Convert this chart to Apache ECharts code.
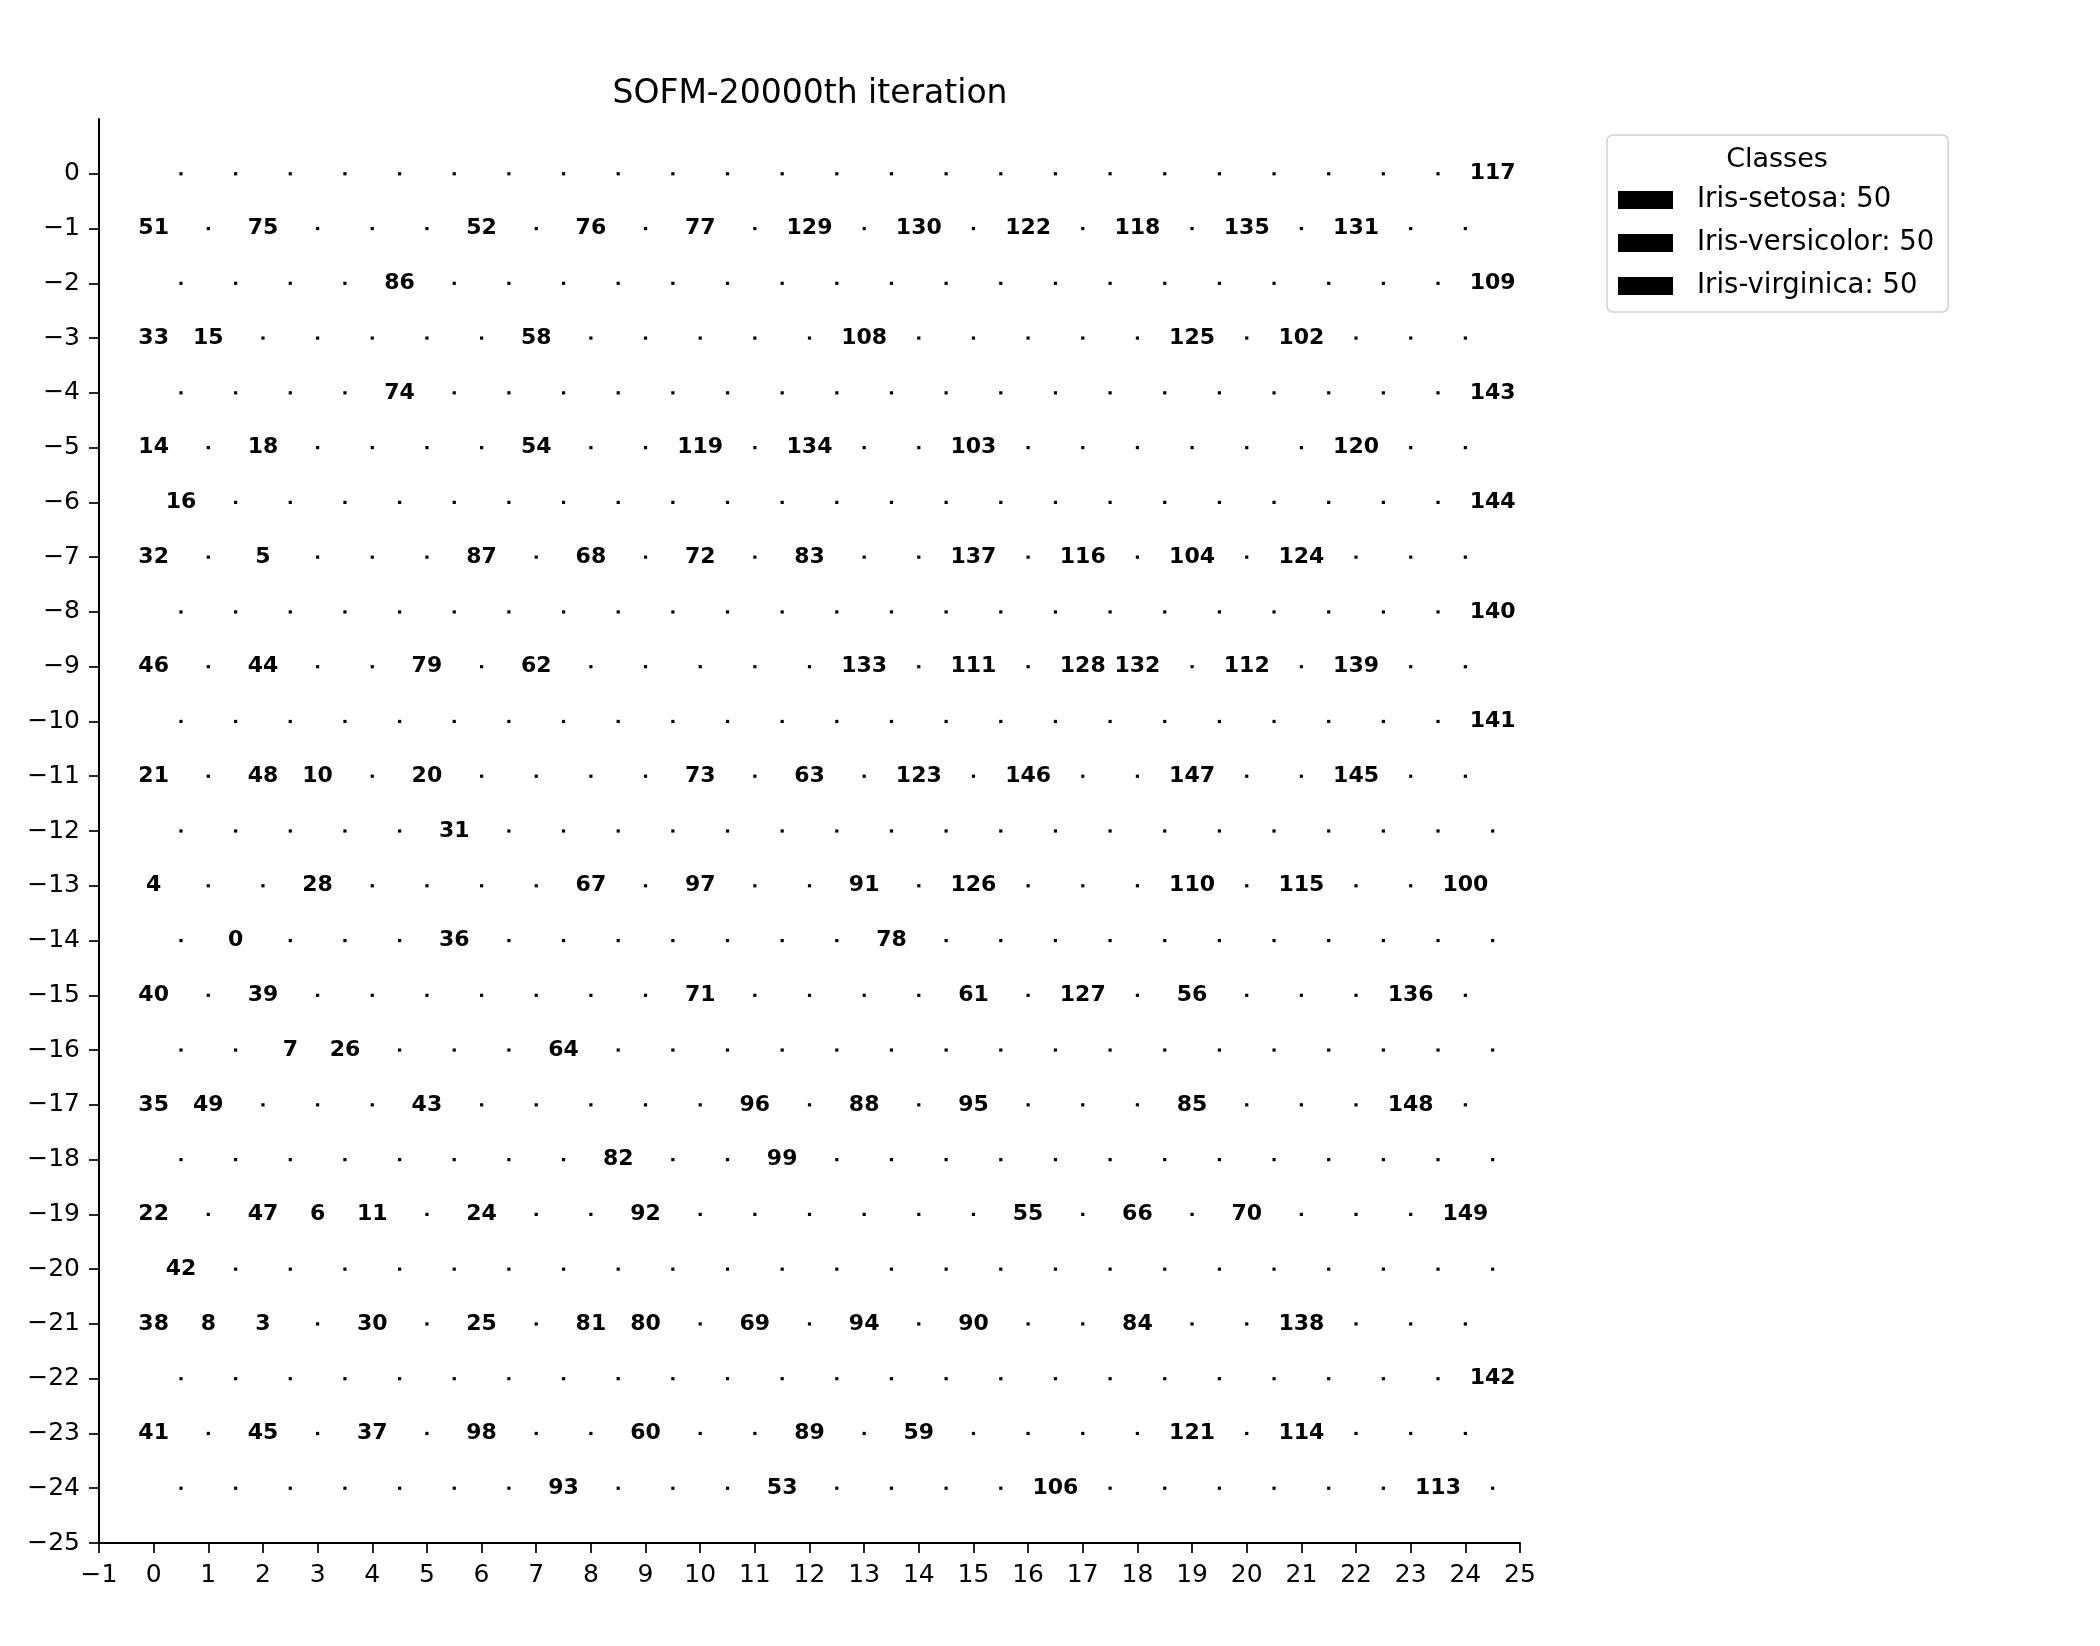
<!DOCTYPE html>
<html>
<head>
<meta charset="utf-8">
<script src="https://cdn.jsdelivr.net/npm/echarts@6/dist/echarts.min.js"></script>
<style>
html,body{margin:0;padding:0;background:#fff;}
#chart{width:2100px;height:1646px;}
</style>
</head>
<body>
<div id="chart"></div>
<script>
// ---- data ----
const chartTitle = 'SOFM-20000th iteration';
const legendTitle = 'Classes';
const classNames = ['Iris-setosa', 'Iris-versicolor', 'Iris-virginica'];
const classCounts = [50, 50, 50];
const samplesPerClass = 50;
const gridRows = 25;
const gridCols = 25;
// for each map row (row r is drawn at y = -r), the [column, sample index] of labelled nodes
const rowLabels = [
  [[24,117]],
  [[0,51],[2,75],[6,52],[8,76],[10,77],[12,129],[14,130],[16,122],[18,118],[20,135],[22,131]],
  [[4,86],[24,109]],
  [[0,33],[1,15],[7,58],[13,108],[19,125],[21,102]],
  [[4,74],[24,143]],
  [[0,14],[2,18],[7,54],[10,119],[12,134],[15,103],[22,120]],
  [[0,16],[24,144]],
  [[0,32],[2,5],[6,87],[8,68],[10,72],[12,83],[15,137],[17,116],[19,104],[21,124]],
  [[24,140]],
  [[0,46],[2,44],[5,79],[7,62],[13,133],[15,111],[17,128],[18,132],[20,112],[22,139]],
  [[24,141]],
  [[0,21],[2,48],[3,10],[5,20],[10,73],[12,63],[14,123],[16,146],[19,147],[22,145]],
  [[5,31]],
  [[0,4],[3,28],[8,67],[10,97],[13,91],[15,126],[19,110],[21,115],[24,100]],
  [[1,0],[5,36],[13,78]],
  [[0,40],[2,39],[10,71],[15,61],[17,127],[19,56],[23,136]],
  [[2,7],[3,26],[7,64]],
  [[0,35],[1,49],[5,43],[11,96],[13,88],[15,95],[19,85],[23,148]],
  [[8,82],[11,99]],
  [[0,22],[2,47],[3,6],[4,11],[6,24],[9,92],[16,55],[18,66],[20,70],[24,149]],
  [[0,42]],
  [[0,38],[1,8],[2,3],[4,30],[6,25],[8,81],[9,80],[11,69],[13,94],[15,90],[18,84],[21,138]],
  [[24,142]],
  [[0,41],[2,45],[4,37],[6,98],[9,60],[12,89],[14,59],[19,121],[21,114]],
  [[7,93],[11,53],[16,106],[23,113]]
];
const xTicks = [-1, 25];
const yTicks = [-25, 0];

// ---- build ----
const FONT = 'DejaVu Sans';
function nodeX(r, c) { return c + (r % 2 === 0 ? 0.5 : 0); }
const dotData = [];
const classData = classNames.map(() => []);
for (let r = 0; r < gridRows; r++) {
  const labelled = {};
  rowLabels[r].forEach(([c, id]) => { labelled[c] = id; });
  for (let c = 0; c < gridCols; c++) {
    if (labelled[c] === undefined) {
      dotData.push([nodeX(r, c), -r]);
    } else {
      const id = labelled[c];
      classData[Math.floor(id / samplesPerClass)].push([nodeX(r, c), -r, id]);
    }
  }
}
const legendNames = classNames.map((n, i) => n + ': ' + classCounts[i]);
const fmt = v => (v < 0 ? '\u2212' + (-v) : String(v));
const yVals = []; for (let v = yTicks[0]; v <= yTicks[1]; v++) yVals.push(v);

const series = [{
  type: 'scatter',
  name: 'nodes',
  data: dotData,
  symbol: 'rect',
  symbolSize: 3.2,
  itemStyle: { color: '#000', opacity: 1 },
  silent: true,
  z: 2
}];
classData.forEach((d, i) => {
  series.push({
    type: 'scatter',
    name: legendNames[i],
    data: d,
    symbolSize: 0.01,
    itemStyle: { color: '#000', opacity: 1 },
    label: {
      show: true,
      position: 'inside',
      formatter: p => String(p.value[2]),
      color: '#000',
      fontFamily: FONT,
      fontWeight: 'bold',
      fontSize: 22
    },
    z: 3
  });
});

const chart = echarts.init(document.getElementById('chart'), null, { renderer: 'canvas' });
chart.setOption({
  animation: false,
  backgroundColor: '#fff',
  title: [{
    text: chartTitle,
    left: 810, top: 78, textAlign: 'center', padding: 0,
    textStyle: { fontFamily: FONT, fontWeight: 'normal', fontSize: 33, color: '#000', lineHeight: 33 }
  }, {
    text: legendTitle,
    left: 1777, top: 146, textAlign: 'center', padding: 0,
    textStyle: { fontFamily: FONT, fontWeight: 'normal', fontSize: 27, color: '#000', lineHeight: 27 }
  }],
  legend: {
    data: legendNames,
    orient: 'vertical',
    left: 1607, top: 135,
    padding: [51, 14, 12, 11],
    itemWidth: 55, itemHeight: 18, itemGap: 15,
    icon: 'rect',
    itemStyle: { color: '#000', opacity: 1 },
    borderColor: '#d0d0d0', borderWidth: 1.5, borderRadius: 6,
    selectedMode: false,
    textStyle: { fontFamily: FONT, fontSize: 27.5, color: '#000', lineHeight: 27, padding: [0, 0, 0, 19] }
  },
  grid: { left: 99, right: 580, top: 119, bottom: 103, containLabel: false },
  xAxis: {
    type: 'value', min: xTicks[0], max: xTicks[1], interval: 1,
    splitLine: { show: false },
    axisLine: { show: true, onZero: false, lineStyle: { color: '#000', width: 2 } },
    axisTick: { show: true, length: 10, lineStyle: { color: '#000', width: 1.7 } },
    axisLabel: { show: true, margin: 20, color: '#000', fontFamily: FONT, fontSize: 25, formatter: fmt }
  },
  yAxis: {
    type: 'value', min: yTicks[0], max: yTicks[1] + 1, interval: 1,
    splitLine: { show: false },
    axisLine: { show: true, onZero: false, lineStyle: { color: '#000', width: 2 } },
    axisTick: { show: true, length: 10, customValues: yVals, lineStyle: { color: '#000', width: 1.7 } },
    axisLabel: { show: true, margin: 19, color: '#000', fontFamily: FONT, fontSize: 25, customValues: yVals, formatter: fmt }
  },
  series: series
});
</script>
</body>
</html>
